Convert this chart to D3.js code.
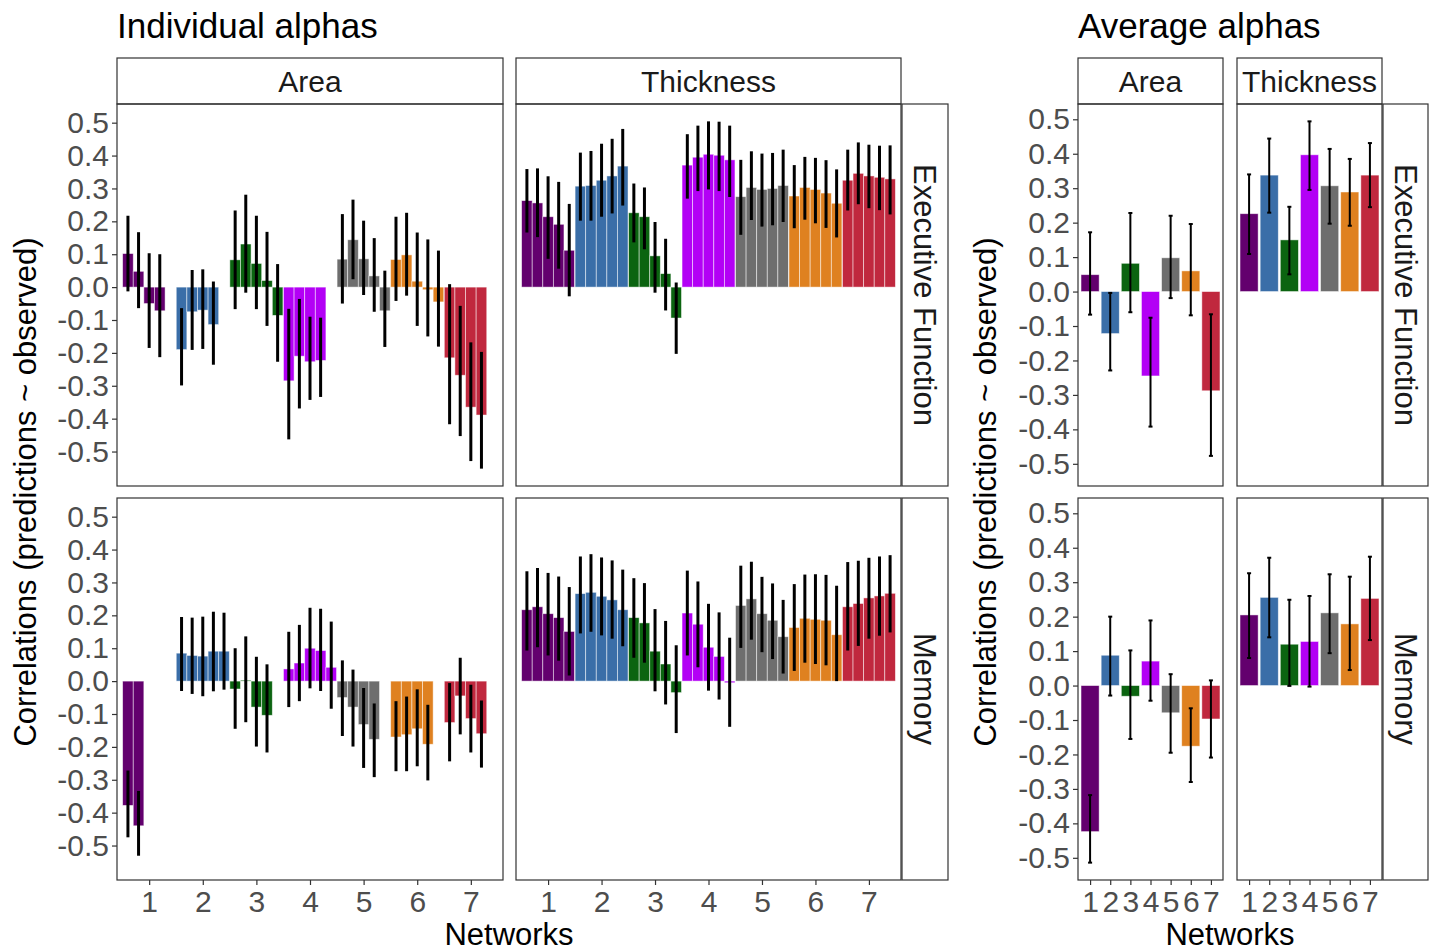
<!DOCTYPE html>
<html>
<head>
<meta charset="utf-8">
<style>
body { margin: 0; background: #fff; }
text { font-family: "Liberation Sans", Arial, Helvetica, sans-serif; }
</style>
</head>
<body>
<svg width="1434" height="951"></svg>
<script src="https://d3js.org/d3.v7.min.js"></script>
<script>
var networks = [1, 2, 3, 4, 5, 6, 7];
var netColors = ["#63006e", "#3a6ea8", "#0b6410", "#b300f5", "#6e6e6e", "#df8120", "#c0283e"];
var measures = ["Area", "Thickness"];
var outcomes = ["Executive Function", "Memory"];
var yTicks = [0.5, 0.4, 0.3, 0.2, 0.1, 0, -0.1, -0.2, -0.3, -0.4, -0.5];

// individual alphas: per network, 5 alpha slots of [estimate, lower, upper] (null = missing)
var indivEfArea = [
  [[0.102, -0.013, 0.217], [0.048, -0.064, 0.167], [-0.05, -0.185, 0.103], [-0.072, -0.213, 0.1], null],
  [[-0.19, -0.299, -0.064], [-0.075, -0.191, 0.052], [-0.07, -0.188, 0.054], [-0.114, -0.236, 0.017], null],
  [[0.083, -0.067, 0.233], [0.131, -0.017, 0.281], [0.072, -0.067, 0.217], [0.02, -0.118, 0.168], [-0.086, -0.227, 0.07]],
  [[-0.285, -0.463, -0.066], [-0.21, -0.369, -0.036], [-0.227, -0.343, -0.09], [-0.223, -0.334, -0.093], null],
  [[0.085, -0.05, 0.222], [0.144, 0.024, 0.266], [0.086, -0.024, 0.202], [0.034, -0.075, 0.149], [-0.072, -0.182, 0.05]],
  [[0.084, -0.042, 0.214], [0.098, -0.026, 0.226], [0.018, -0.118, 0.166], [-0.008, -0.15, 0.145], [-0.045, -0.181, 0.111]],
  [[-0.215, -0.417, 0.009], [-0.268, -0.453, -0.057], [-0.365, -0.529, -0.168], [-0.389, -0.552, -0.197], null]
];
var indivEfThick = [
  [[0.263, 0.166, 0.359], [0.256, 0.152, 0.361], [0.214, 0.086, 0.337], [0.191, 0.056, 0.32], [0.112, -0.028, 0.253]],
  [[0.307, 0.202, 0.409], [0.309, 0.202, 0.414], [0.325, 0.214, 0.436], [0.338, 0.224, 0.451], [0.368, 0.248, 0.481]],
  [[0.226, 0.136, 0.315], [0.214, 0.115, 0.303], [0.095, -0.017, 0.198], [0.041, -0.071, 0.147], [-0.094, -0.203, 0.014]],
  [[0.371, 0.269, 0.465], [0.395, 0.292, 0.491], [0.404, 0.297, 0.504], [0.401, 0.292, 0.503], [0.387, 0.274, 0.491]],
  [[0.275, 0.159, 0.387], [0.303, 0.204, 0.413], [0.297, 0.184, 0.406], [0.3, 0.188, 0.408], [0.309, 0.198, 0.418]],
  [[0.277, 0.179, 0.371], [0.303, 0.205, 0.396], [0.297, 0.194, 0.393], [0.286, 0.18, 0.386], [0.255, 0.151, 0.358]],
  [[0.325, 0.233, 0.418], [0.346, 0.252, 0.44], [0.338, 0.24, 0.433], [0.334, 0.234, 0.43], [0.329, 0.221, 0.431]]
];
var indivMemArea = [
  [[-0.378, -0.475, -0.272], [-0.44, -0.531, -0.334], null, null, null],
  [[0.085, -0.03, 0.195], [0.078, -0.039, 0.193], [0.076, -0.046, 0.196], [0.091, -0.031, 0.211], [0.091, -0.026, 0.208]],
  [[-0.024, -0.145, 0.1], [0.003, -0.125, 0.136], [-0.079, -0.199, 0.074], [-0.104, -0.217, 0.051], null],
  [[0.037, -0.079, 0.15], [0.055, -0.061, 0.171], [0.1, -0.022, 0.223], [0.093, -0.03, 0.22], [0.042, -0.084, 0.181]],
  [[-0.05, -0.167, 0.063], [-0.079, -0.199, 0.035], [-0.132, -0.264, -0.021], [-0.177, -0.292, -0.068], null],
  [[-0.17, -0.274, -0.061], [-0.163, -0.274, -0.047], [-0.145, -0.259, -0.025], [-0.192, -0.302, -0.072], null],
  [[-0.126, -0.244, -0.006], [-0.045, -0.162, 0.071], [-0.114, -0.217, -0.011], [-0.16, -0.263, -0.059], null]
];
var indivMemThick = [
  [[0.217, 0.093, 0.334], [0.226, 0.103, 0.344], [0.205, 0.078, 0.329], [0.193, 0.062, 0.318], [0.151, 0.017, 0.286]],
  [[0.266, 0.145, 0.379], [0.27, 0.15, 0.386], [0.258, 0.139, 0.376], [0.247, 0.129, 0.367], [0.217, 0.106, 0.339]],
  [[0.193, 0.071, 0.313], [0.177, 0.056, 0.298], [0.091, -0.031, 0.219], [0.052, -0.071, 0.183], [-0.035, -0.158, 0.109]],
  [[0.207, 0.078, 0.336], [0.173, 0.042, 0.303], [0.103, -0.029, 0.235], [0.075, -0.056, 0.209], [-0.005, -0.139, 0.132]],
  [[0.23, 0.101, 0.351], [0.25, 0.126, 0.363], [0.205, 0.088, 0.317], [0.185, 0.067, 0.297], [0.135, 0.023, 0.247]],
  [[0.163, 0.031, 0.295], [0.191, 0.056, 0.324], [0.188, 0.052, 0.325], [0.185, 0.048, 0.323], [0.141, 0.0, 0.29]],
  [[0.226, 0.093, 0.362], [0.236, 0.107, 0.366], [0.253, 0.129, 0.375], [0.259, 0.138, 0.379], [0.267, 0.148, 0.383]]
];

// average alphas: per network [estimate, lower, upper]
var avgEfArea = [[0.049, -0.067, 0.172], [-0.122, -0.229, -0.004], [0.082, -0.06, 0.228], [-0.245, -0.392, -0.076],
  [0.098, -0.019, 0.22], [0.06, -0.069, 0.196], [-0.288, -0.477, -0.066]];
var avgEfThick = [[0.226, 0.109, 0.34], [0.338, 0.229, 0.444], [0.15, 0.05, 0.246], [0.397, 0.295, 0.494],
  [0.307, 0.197, 0.414], [0.289, 0.191, 0.385], [0.338, 0.245, 0.431]];
var avgMemArea = [[-0.424, -0.514, -0.318], [0.088, -0.029, 0.2], [-0.031, -0.155, 0.102], [0.071, -0.044, 0.189],
  [-0.079, -0.195, 0.033], [-0.176, -0.28, -0.066], [-0.097, -0.209, 0.015]];
var avgMemThick = [[0.205, 0.08, 0.326], [0.256, 0.14, 0.371], [0.12, -0.001, 0.249], [0.128, -0.003, 0.26],
  [0.211, 0.094, 0.323], [0.179, 0.045, 0.316], [0.253, 0.132, 0.374]];

var svg = d3.select("svg");
var rows = [[104, 486], [498, 880]];
var stripTop = 58;
var tickFmt = function(d) { return d.toFixed(1); };

function indivRecords(panel) {
  var out = [];
  panel.forEach(function(group, i) {
    group.forEach(function(d, j) {
      if (d) out.push({net: networks[i], slot: j, est: d[0], lo: d[1], hi: d[2]});
    });
  });
  return out;
}
function avgRecords(panel) {
  return panel.map(function(d, i) { return {net: networks[i], est: d[0], lo: d[1], hi: d[2]}; });
}

function drawPlot(cfg) {
  var recs = cfg.panels.map(function(row) { return row.map(cfg.kind == "indiv" ? indivRecords : avgRecords); });
  var all = d3.merge(d3.merge(recs));
  var lo = d3.min(all, function(d) { return Math.min(d.lo, d.est); }),
      hi = d3.max(all, function(d) { return Math.max(d.hi, d.est); });
  var pad = (hi - lo) * 0.05;

  // title
  svg.append("text").attr("x", cfg.cols[0][0]).attr("y", 38)
    .style("font-size", "35px").attr("fill", "#000").text(cfg.title);

  // top strips
  cfg.cols.forEach(function(c, ci) {
    svg.append("rect").attr("x", c[0]).attr("y", stripTop).attr("width", c[1] - c[0]).attr("height", rows[0][0] - stripTop)
      .attr("fill", "#fff").attr("stroke", "#333").attr("stroke-width", 1.2);
    svg.append("text").attr("x", (c[0] + c[1]) / 2).attr("y", (stripTop + rows[0][0]) / 2 + 11)
      .attr("text-anchor", "middle").style("font-size", "30px").attr("fill", "#1a1a1a").text(measures[ci]);
  });

  rows.forEach(function(r, ri) {
    var y = d3.scaleLinear().domain([lo - pad, hi + pad]).range([r[1], r[0]]);

    // right strip
    svg.append("rect").attr("x", cfg.stripX[0]).attr("y", r[0]).attr("width", cfg.stripX[1] - cfg.stripX[0])
      .attr("height", r[1] - r[0]).attr("fill", "#fff").attr("stroke", "#333").attr("stroke-width", 1.2);
    var sx = (cfg.stripX[0] + cfg.stripX[1]) / 2, sy = (r[0] + r[1]) / 2;
    svg.append("text").attr("transform", "translate(" + (sx - 11) + "," + sy + ") rotate(90)")
      .attr("text-anchor", "middle").style("font-size", "31px").attr("fill", "#1a1a1a").text(outcomes[ri]);

    cfg.cols.forEach(function(c, ci) {
      var x = d3.scaleLinear().domain([0.4, 7.6]).range([c[0], c[1]]);
      var g = svg.append("g");
      var data = recs[ri][ci];

      if (cfg.kind == "indiv") {
        var gw = 0.99, sw = gw / 5;
        var left = function(d) { return d.net - gw / 2 + d.slot * sw; };
        g.selectAll("rect.bar").data(data).enter().append("rect")
          .attr("x", function(d) { return x(left(d)); })
          .attr("width", function(d) { return x(left(d) + sw) - x(left(d)); })
          .attr("y", function(d) { return y(Math.max(0, d.est)); })
          .attr("height", function(d) { return Math.abs(y(0) - y(d.est)); })
          .attr("fill", function(d) { return netColors[d.net - 1]; })
          .attr("stroke", "#fff").attr("stroke-opacity", 0.6).attr("stroke-width", 0.8);
        g.selectAll("line.err").data(data).enter().append("line")
          .attr("x1", function(d) { return x(left(d) + sw / 2); })
          .attr("x2", function(d) { return x(left(d) + sw / 2); })
          .attr("y1", function(d) { return y(d.lo); })
          .attr("y2", function(d) { return y(d.hi); })
          .attr("stroke", "#000").attr("stroke-width", 3);
      } else {
        g.selectAll("rect.bar").data(data).enter().append("rect")
          .attr("x", function(d) { return x(d.net - 0.45); })
          .attr("width", x(1.45) - x(0.55))
          .attr("y", function(d) { return y(Math.max(0, d.est)); })
          .attr("height", function(d) { return Math.abs(y(0) - y(d.est)); })
          .attr("fill", function(d) { return netColors[d.net - 1]; })
          .attr("stroke", "#fff").attr("stroke-opacity", 0.6).attr("stroke-width", 0.8);
        var eb = g.selectAll("g.err").data(data).enter().append("g")
          .attr("stroke", "#000").attr("stroke-width", 2);
        eb.append("line")
          .attr("x1", function(d) { return x(d.net); }).attr("x2", function(d) { return x(d.net); })
          .attr("y1", function(d) { return y(d.lo); }).attr("y2", function(d) { return y(d.hi); });
        ["lo", "hi"].forEach(function(k) {
          eb.append("line")
            .attr("x1", function(d) { return x(d.net - 0.1); }).attr("x2", function(d) { return x(d.net + 0.1); })
            .attr("y1", function(d) { return y(d[k]); }).attr("y2", function(d) { return y(d[k]); });
        });
      }

      // panel border
      svg.append("rect").attr("x", c[0]).attr("y", r[0]).attr("width", c[1] - c[0]).attr("height", r[1] - r[0])
        .attr("fill", "none").attr("stroke", "#333").attr("stroke-width", 1.2);

      if (ci == 0) {
        var ya = svg.append("g").attr("transform", "translate(" + c[0] + ",0)")
          .call(d3.axisLeft(y).tickValues(yTicks).tickFormat(tickFmt).tickSize(5).tickPadding(3));
        ya.select(".domain").remove();
        ya.selectAll("line").attr("stroke", "#333").attr("stroke-width", 1.2);
        ya.selectAll("text").style("font-size", "30px").attr("fill", "#4d4d4d").attr("font-family", null);
      }
      if (ri == 1) {
        var xa = svg.append("g").attr("transform", "translate(0," + r[1] + ")")
          .call(d3.axisBottom(x).tickValues(networks).tickFormat(d3.format("d")).tickSize(5).tickPadding(6));
        xa.select(".domain").remove();
        xa.selectAll("line").attr("stroke", "#333").attr("stroke-width", 1.2);
        xa.selectAll("text").style("font-size", "30px").attr("fill", "#4d4d4d").attr("font-family", null);
      }
    });
  });

  // axis titles
  svg.append("text").attr("transform", "translate(" + (cfg.yLabelX + 11) + "," + ((rows[0][0] + rows[1][1]) / 2) + ") rotate(-90)")
    .attr("text-anchor", "middle").style("font-size", "31px").attr("fill", "#000")
    .text("Correlations (predictions ~ observed)");
  svg.append("text").attr("x", (cfg.cols[0][0] + cfg.cols[1][1]) / 2).attr("y", 945)
    .attr("text-anchor", "middle").style("font-size", "31px").attr("fill", "#000").text("Networks");
}

drawPlot({
  kind: "indiv", title: "Individual alphas",
  cols: [[117, 503], [516, 901]], stripX: [902, 948], yLabelX: 25,
  panels: [[indivEfArea, indivEfThick], [indivMemArea, indivMemThick]]
});
drawPlot({
  kind: "avg", title: "Average alphas",
  cols: [[1078, 1223], [1237, 1382]], stripX: [1383, 1428], yLabelX: 985,
  panels: [[avgEfArea, avgEfThick], [avgMemArea, avgMemThick]]
});
</script>
</body>
</html>
